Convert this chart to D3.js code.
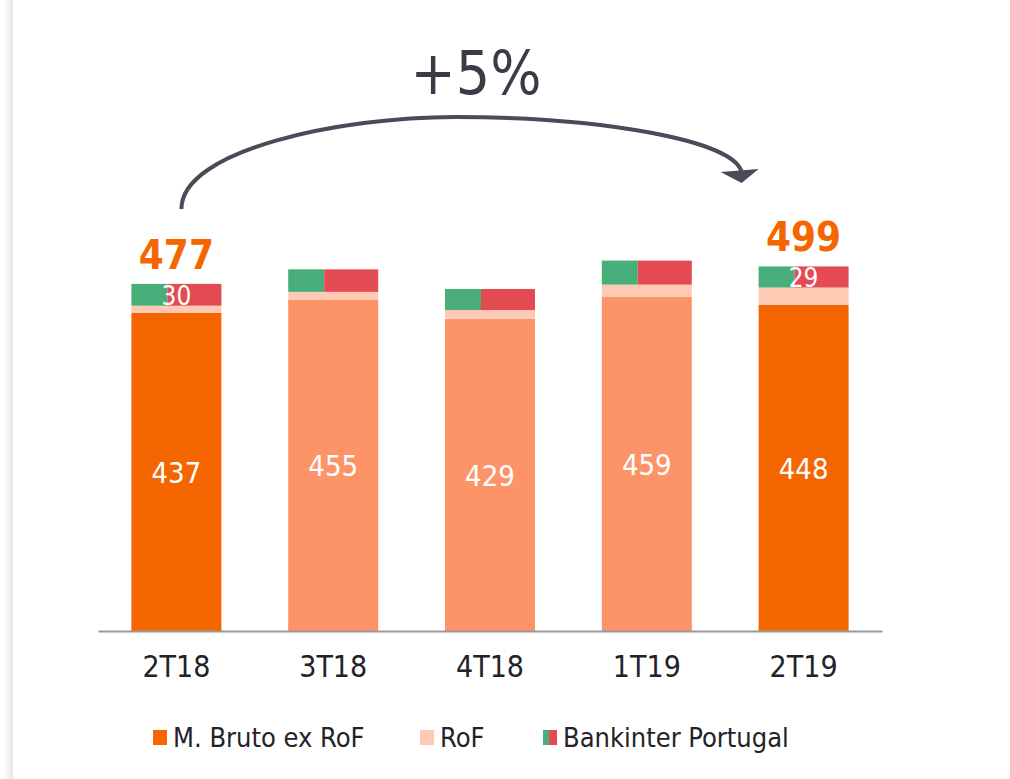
<!DOCTYPE html>
<html>
<head>
<meta charset="utf-8">
<script src="https://cdn.jsdelivr.net/npm/d3@7"></script>
<style>
  body { margin: 0; background: #fff; }
  svg text { font-family: 'DejaVu Sans Condensed', 'DejaVu Sans', sans-serif; font-stretch: condensed; }
</style>
</head>
<body>
<div id="chart"></div>
<script>
// Chart data
const quarters = ['2T18', '3T18', '4T18', '1T19', '2T19'];
const mainValues = [437, 455, 429, 459, 448];      // M. Bruto ex RoF
const rofValues = [10, 11, 12, 17, 24];            // RoF
const portugalValues = [30, 31, 29, 33, 29];       // Bankinter Portugal
const highlighted = [true, false, false, false, true];
const totalLabels = ['477', '', '', '', '499'];
const portugalLabels = ['30', '', '', '', '29'];
const mainLabels = ['437', '455', '429', '459', '448'];
const growthLabel = '+5%';
const legendItems = ['M. Bruto ex RoF', 'RoF', 'Bankinter Portugal'];

const width = 1010, height = 779;
const colors = {
  main: '#f56600',
  mainLight: '#fd9468',
  rof: '#ffcab4',
  green: '#4aae7b',
  red: '#e44a52',
  text: '#222228',
  arrow: '#4a4a58'
};

const svg = d3.select('#chart').append('svg')
  .attr('width', width)
  .attr('height', height);

// left border shadow
const grad = svg.append('defs').append('linearGradient').attr('id', 'edge');
grad.append('stop').attr('offset', '0%').attr('stop-color', '#fff');
grad.append('stop').attr('offset', '100%').attr('stop-color', '#e6e6e6');
svg.append('rect').attr('x', 4).attr('y', 0).attr('width', 9).attr('height', height).attr('fill', 'url(#edge)');

// Scales
const x = d3.scaleBand()
  .domain(quarters)
  .range([98, 882])
  .paddingInner(0.426)
  .paddingOuter(0.213);

const y = d3.scaleLinear()
  .domain([0, 600])
  .range([631, 631 - 0.7277 * 600]);

// Stack data
const rows = quarters.map((q, i) => ({
  q, main: mainValues[i], rof: rofValues[i], pt: portugalValues[i], hi: highlighted[i]
}));

const bars = svg.append('g');
const bw = x.bandwidth();

rows.forEach((d, i) => {
  const g = bars.append('g');
  const x0 = x(d.q);
  const m1 = d.main, r1 = m1 + d.rof, p1 = r1 + d.pt;
  g.append('rect')
    .attr('x', x0).attr('y', y(m1))
    .attr('width', bw).attr('height', y(0) - y(m1))
    .attr('fill', d.hi ? colors.main : colors.mainLight);
  g.append('rect')
    .attr('x', x0).attr('y', y(r1))
    .attr('width', bw).attr('height', y(m1) - y(r1))
    .attr('fill', colors.rof);
  g.append('rect')
    .attr('x', x0).attr('y', y(p1))
    .attr('width', bw * 0.4).attr('height', y(r1) - y(p1))
    .attr('fill', colors.green);
  g.append('rect')
    .attr('x', x0 + bw * 0.4).attr('y', y(p1))
    .attr('width', bw * 0.6).attr('height', y(r1) - y(p1))
    .attr('fill', colors.red);

  // value inside main segment
  g.append('text')
    .attr('x', x0 + bw / 2)
    .attr('y', (y(0) + y(m1)) / 2 + 11)
    .attr('text-anchor', 'middle')
    .attr('font-size', 29)
    .attr('fill', '#fff')
    .text(mainLabels[i]);

  if (portugalLabels[i]) {
    g.append('text')
      .attr('x', x0 + bw / 2)
      .attr('y', (y(r1) + y(p1)) / 2 + 10)
      .attr('text-anchor', 'middle')
      .attr('font-size', 26)
      .attr('fill', '#fff')
      .text(portugalLabels[i]);
  }
  if (totalLabels[i]) {
    g.append('text')
      .attr('x', x0 + bw / 2)
      .attr('y', y(p1) - 15)
      .attr('text-anchor', 'middle')
      .attr('font-size', 40)
      .attr('font-weight', 'bold')
      .attr('fill', colors.main)
      .text(totalLabels[i]);
  }
});

// x axis
const xAxis = svg.append('g')
  .attr('transform', `translate(0, ${y(0)})`)
  .call(d3.axisBottom(x).tickSize(0).tickPadding(25));
xAxis.select('.domain').attr('stroke', '#999').attr('stroke-width', 2);
xAxis.selectAll('text').attr('font-size', 30).attr('fill', colors.text)
  .style('font-family', "'DejaVu Sans Condensed', 'DejaVu Sans', sans-serif");

// growth arrow
const xa = x(quarters[0]) + bw / 2 + 5;
const xb = x(quarters[4]) - 20;
svg.append('path')
  .attr('d', `M${xa},209 C${xa},150 ${340},117 ${455},117 C${600},117 ${xb - 5},140 ${xb + 3},172`)
  .attr('fill', 'none')
  .attr('stroke', colors.arrow)
  .attr('stroke-width', 4);
svg.append('path')
  .attr('d', `M${xb - 18},172 L${xb + 20},169 L${xb + 3},183 Z`)
  .attr('fill', colors.arrow);

svg.append('text')
  .attr('x', 476)
  .attr('y', 94)
  .attr('text-anchor', 'middle')
  .attr('font-size', 60)
  .attr('fill', '#3b3b48')
  .text(growthLabel);

// legend
const legend = svg.append('g').attr('transform', 'translate(0, 730)');
const legendX = [153, 420, 543];
legendItems.forEach((name, i) => {
  const g = legend.append('g').attr('transform', `translate(${legendX[i]}, 0)`);
  if (i === 0) {
    g.append('rect').attr('width', 14).attr('height', 15).attr('fill', colors.main);
  } else if (i === 1) {
    g.append('rect').attr('width', 14).attr('height', 15).attr('fill', colors.rof);
  } else {
    g.append('rect').attr('width', 6).attr('height', 15).attr('fill', colors.green);
    g.append('rect').attr('x', 6).attr('width', 8).attr('height', 15).attr('fill', colors.red);
  }
  g.append('text')
    .attr('x', 20)
    .attr('y', 17)
    .attr('font-size', 27)
    .attr('fill', colors.text)
    .text(name);
});
</script>
</body>
</html>
